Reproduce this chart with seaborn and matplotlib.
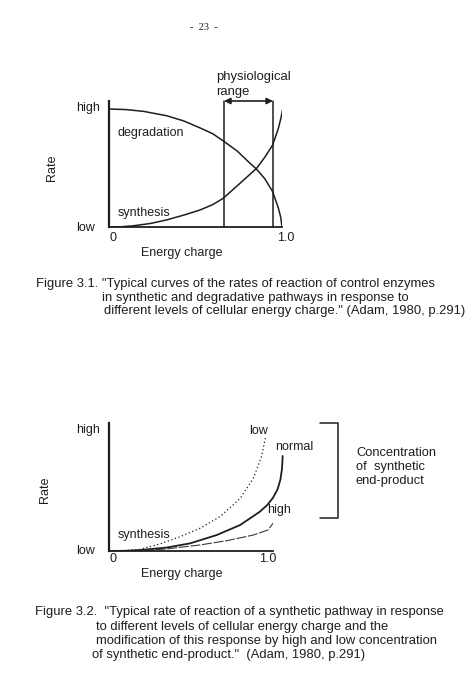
import numpy as np
import pandas as pd
import matplotlib
matplotlib.use("Agg")
import matplotlib.pyplot as plt
import seaborn as sns

# ==============================
# Data
# ==============================
# Figure 3.1
energy_deg = [0.0, 0.1, 0.2, 0.333, 0.43, 0.526, 0.6, 0.66, 0.74, 0.815, 0.853, 0.9, 0.946, 0.979, 0.993, 1.0]
degradation = [1.0, 0.995, 0.98, 0.943, 0.90, 0.84, 0.79, 0.73, 0.645, 0.54, 0.49, 0.41, 0.30, 0.16, 0.08, 0.0]

energy_syn = [0.0, 0.07, 0.14, 0.24, 0.333, 0.43, 0.526, 0.6, 0.66, 0.757, 0.853, 0.9, 0.946, 0.979, 0.995, 1.004]
synthesis = [0.0, 0.002, 0.01, 0.03, 0.06, 0.10, 0.144, 0.19, 0.243, 0.37, 0.497, 0.59, 0.695, 0.836, 0.93, 1.0]

phys_range = [0.665, 0.948]

# Figure 3.2 (synthesis at three end-product concentrations)
energy_low = [0.0, 0.10, 0.19, 0.31, 0.433, 0.555, 0.677, 0.80, 0.88, 0.93, 0.955]
rate_low = [0.0, 0.003, 0.014, 0.058, 0.118, 0.188, 0.284, 0.435, 0.60, 0.78, 0.945]

energy_normal = [0.0, 0.10, 0.19, 0.35, 0.494, 0.657, 0.80, 0.92, 0.965, 1.0, 1.028, 1.045, 1.055, 1.059]
rate_normal = [0.0, 0.002, 0.008, 0.028, 0.063, 0.132, 0.215, 0.325, 0.38, 0.44, 0.51, 0.59, 0.68, 0.785]

energy_high = [0.0, 0.19, 0.35, 0.555, 0.717, 0.88, 0.97, 1.0]
rate_high = [0.0, 0.003, 0.017, 0.05, 0.085, 0.132, 0.174, 0.229]

W, H = 474, 682
INK = "#1e1e1e"


def fx(px):
    return px / W


def fy(py):
    return 1 - py / H


sns.set_theme(style="white")
plt.rcParams["font.family"] = ["Liberation Sans", "DejaVu Sans"]

fig = plt.figure(figsize=(W / 100, H / 100), dpi=100)
fig.patch.set_facecolor("white")

# ==============================
# Figure 3.1
# ==============================
ax1 = fig.add_axes([fx(109), fy(227), 173 / W, 126 / H])
top1 = 126 / 118
ax1.set_xlim(0, 1.0)
ax1.set_ylim(0, top1)
sns.lineplot(x=energy_deg, y=degradation, ax=ax1, color=INK, lw=1.1, sort=False, estimator=None)
sns.lineplot(x=energy_syn, y=synthesis, ax=ax1, color=INK, lw=1.1, sort=False, estimator=None)
for xr in phys_range:
    ax1.plot([xr, xr], [0, top1], color=INK, lw=1.1, clip_on=False)
ax1.annotate("", xy=(phys_range[1], top1), xytext=(phys_range[0], top1),
             arrowprops=dict(arrowstyle="<|-|>", color=INK, lw=1.2,
                             mutation_scale=9, shrinkA=0, shrinkB=0),
             annotation_clip=False)

# ==============================
# Figure 3.2
# ==============================
ax2 = fig.add_axes([fx(109), fy(551), 164 * 1.07 / W, 128 / H])
ax2.set_xlim(0, 1.07)
ax2.set_ylim(0, 128 / 121)
sns.lineplot(x=energy_low, y=rate_low, ax=ax2, color=INK, lw=0.9, linestyle=(0, (1, 2)),
             sort=False, estimator=None)
sns.lineplot(x=energy_normal, y=rate_normal, ax=ax2, color=INK, lw=1.3, sort=False, estimator=None)
sns.lineplot(x=energy_high, y=rate_high, ax=ax2, color="#3a3a3a", lw=0.8, linestyle=(0, (9, 1.5)),
             sort=False, estimator=None)
ax2.spines["bottom"].set_bounds(0, 1.0)

for ax in (ax1, ax2):
    sns.despine(ax=ax)
    ax.spines["left"].set_linewidth(1.6)
    ax.spines["bottom"].set_linewidth(1.3)
    ax.spines["left"].set_color(INK)
    ax.spines["bottom"].set_color(INK)
    ax.set_xticks([])
    ax.set_yticks([])
    ax.set_facecolor("none")

# bracket for end-product concentration
bx = [(320 - 109) / 164, (338 - 109) / 164, (338 - 109) / 164, (320 - 109) / 164]
by = [128 / 121, 128 / 121, (551 - 518) / 121, (551 - 518) / 121]
ax2.plot(bx, by, color=INK, lw=1.1, clip_on=False)

# ==============================
# Text
# ==============================
fs = 9.0
cap = 9.4


def txt(px, py, s, ha="left", size=fs, **kw):
    fig.text(fx(px), fy(py), s, ha=ha, va="center", fontsize=size, color=INK, **kw)


txt(204, 28, "-  23  -", ha="center", size=7.5, family="Liberation Serif")

# figure 3.1 labels
txt(216, 77, "physiological", size=9.4)
txt(216, 92, "range", size=9.4)
txt(76, 108, "high")
txt(76, 228, "low")
txt(118, 133, "degradation")
txt(118, 213, "synthesis")
txt(113, 238, "0", ha="center")
txt(286, 238, "1.0", ha="center")
txt(182, 253, "Energy charge", ha="center")
txt(52, 168, "Rate", ha="center", rotation=90)

txt(36, 284, 'Figure 3.1. "Typical curves of the rates of reaction of control enzymes', size=cap)
txt(102, 298, "in synthetic and degradative pathways in response to", size=cap)
txt(104, 311, 'different levels of cellular energy charge." (Adam, 1980, p.291)', size=cap)

# figure 3.2 labels
txt(76, 430, "high")
txt(76, 551, "low")
txt(249, 431, "low")
txt(275, 447, "normal")
txt(267, 510, "high")
txt(118, 535, "synthesis")
txt(113, 559, "0", ha="center")
txt(268, 559, "1.0", ha="center")
txt(182, 574, "Energy charge", ha="center")
txt(45, 490, "Rate", ha="center", rotation=90)
txt(356, 453, "Concentration", size=9.3)
txt(356, 467, "of  synthetic", size=9.3)
txt(356, 481, "end-product", size=9.3)

txt(35, 612, 'Figure 3.2.  "Typical rate of reaction of a synthetic pathway in response', size=cap)
txt(96, 627, "to different levels of cellular energy charge and the", size=cap)
txt(96, 641, "modification of this response by high and low concentration", size=cap)
txt(92, 655, 'of synthetic end-product."  (Adam, 1980, p.291)', size=cap)

fig.savefig("out.png", dpi=100, facecolor="white")
